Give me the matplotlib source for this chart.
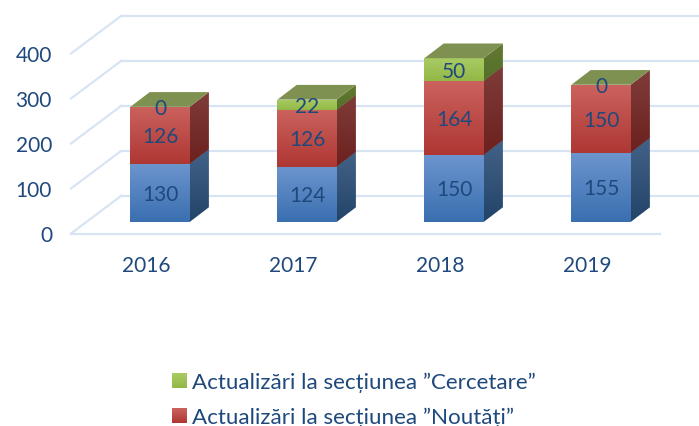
import numpy as np
import matplotlib
matplotlib.use('Agg')
import matplotlib.pyplot as plt
from matplotlib.colors import LinearSegmentedColormap
from matplotlib.patches import Polygon

plt.rcParams['font.family'] = ['Lato', 'DejaVu Sans']

years = ['2016', '2017', '2018', '2019']
blue_vals = [130, 124, 150, 155]
red_vals = [126, 126, 164, 150]
green_vals = [0, 22, 50, 0]
y_ticks = [0, 100, 200, 300, 400]
legend_labels = ['Actualizări la secțiunea ”Cercetare”', 'Actualizări la secțiunea ”Noutăți”']

TXT = '#1F497D'
GRID = '#D8E4F3'
W, H = 699, 427
PX_X = 147.0   # pixels per category
PX_Y = 0.45    # pixels per unit
X0, Y0 = 160, 223  # pixel of category 0, value 0

# (front top, front bottom, side top, side bottom)
blue_c = ('#6C95CE', '#3A6FB0', '#436287', '#234469')
red_c = ('#CB625E', '#AE3733', '#7F3C3A', '#6C211E')
green_c = ('#A8CB64', '#93B845', '#62792F', '#55702A')
top_c = '#7F9150'

fig = plt.figure(figsize=(W / 100, H / 100), dpi=100)
ax = fig.add_axes([0, 0, 1, 1])
xlim = (-X0 / PX_X, (W - X0) / PX_X)
ylim = ((Y0 - H) / PX_Y, Y0 / PX_Y)

half = 29.6 / PX_X
bar_dx, bar_dy = 19.3 / PX_X, 14.7 / PX_Y
wall_dx, wall_dy = 50 / PX_X, 37.5 / PX_Y
grid_x0 = (71 - X0) / PX_X
grid_x1 = (660 - X0) / PX_X
grid_off = 11.5 / PX_Y
txt_off = 1.2 / PX_Y  # va='center' sits a bit high
overlap = 1.0


def grad_poly(verts, c1, c2, z):
    cmap = LinearSegmentedColormap.from_list('g', [c2, c1])
    xs, ys = zip(*verts)
    im = ax.imshow(np.linspace(1, 0, 64).reshape(-1, 1), cmap=cmap, aspect='auto', zorder=z,
                   extent=(min(xs), max(xs), min(ys), max(ys)), interpolation='bilinear')
    p = Polygon(verts, closed=True, transform=ax.transData, fc='none', ec='none')
    ax.add_patch(p)
    im.set_clip_path(p)


# floor and walls
for v in y_ticks:
    fy = v - grid_off
    ax.plot([grid_x0, grid_x0 + wall_dx], [fy, fy + wall_dy], color=GRID, lw=1.6, zorder=1)
    ax.plot([grid_x0 + wall_dx, xlim[1] + 1], [fy + wall_dy, fy + wall_dy], color=GRID, lw=1.6, zorder=1)
    ax.text(grid_x0 - 19 / PX_X, fy - txt_off, str(v), ha='right', va='center', color=TXT, fontsize=15)
ax.plot([grid_x0, grid_x1], [-grid_off, -grid_off], color=GRID, lw=1.6, zorder=1)

# bars
for i, year in enumerate(years):
    base = 0
    z = 3 + i
    l, r = i - half, i + half
    for val, cols in ((blue_vals[i], blue_c), (red_vals[i], red_c), (green_vals[i], green_c)):
        if val == 0:
            continue
        top = base + val
        low = base - overlap if base > 0 else base
        grad_poly([(r, low), (r + bar_dx, low + bar_dy), (r + bar_dx, top + bar_dy), (r, top)],
                  cols[2], cols[3], z)
        grad_poly([(l, low), (r, low), (r, top), (l, top)], cols[0], cols[1], z)
        base = top
    ax.add_patch(Polygon([(l, base), (r, base), (r + bar_dx, base + bar_dy), (l + bar_dx, base + bar_dy)],
                         closed=True, fc=top_c, ec='none', zorder=z))

    # labels
    base = 0
    for val in (blue_vals[i], red_vals[i], green_vals[i]):
        ax.text(i, base + val / 2 - txt_off, str(val), ha='center', va='center',
                color=TXT, fontsize=15, zorder=10)
        base += val
    ax.text(i - 14 / PX_X, -41.5 / PX_Y - txt_off, year, ha='center', va='center',
            color=TXT, fontsize=15, zorder=10)

ax.set_xlim(xlim)
ax.set_ylim(ylim)
ax.axis('off')

# legend
for label, cols, py in zip(legend_labels, (green_c, red_c), (381.5, 416.5)):
    kax = fig.add_axes([172 / W, 1 - (py + 7.5) / H, 14.5 / W, 15 / H])
    kax.imshow(np.linspace(1, 0, 32).reshape(-1, 1), aspect='auto',
               cmap=LinearSegmentedColormap.from_list('k', [cols[1], cols[0]]))
    kax.axis('off')
    fig.text(192 / W, 1 - (py + 1) / H, label, ha='left', va='center', color=TXT, fontsize=16.1)

fig.savefig('out.png', dpi=100)
